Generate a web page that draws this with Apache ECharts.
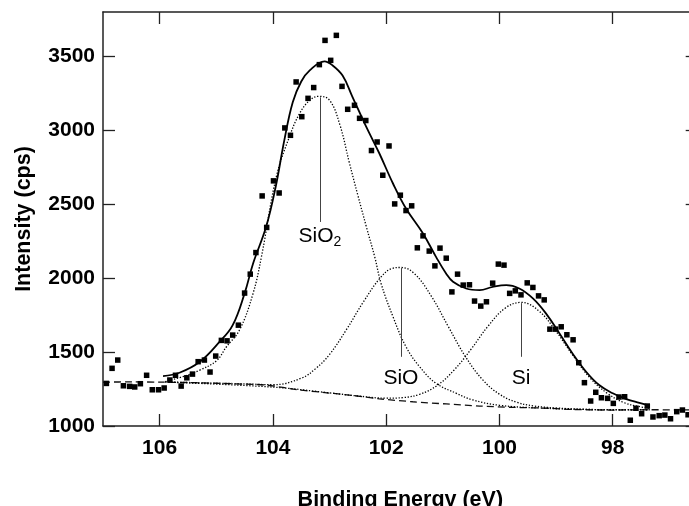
<!DOCTYPE html>
<html><head><meta charset="utf-8">
<script src="https://cdn.jsdelivr.net/npm/echarts@6/dist/echarts.min.js"></script>
<style>html,body{margin:0;padding:0;background:#fff}#c{width:689px;height:506px}</style>
</head><body><div id="c"></div>
<script>
// ---- tick labels ----
const xTicks = [106, 104, 102, 100, 98];
const yTicks = [1000, 1500, 2000, 2500, 3000, 3500];

// ---- measured points (binding energy eV, intensity cps) ----
const measEnergy = [106.94,106.84,106.74,106.64,106.53,106.44,106.34,106.23,106.13,106.02,105.92,105.82,105.72,105.62,105.52,105.42,105.32,105.21,105.11,105.01,104.91,104.81,104.71,104.61,104.50,104.40,104.30,104.19,104.11,103.99,103.89,103.79,103.69,103.59,103.49,103.38,103.28,103.18,103.08,102.98,102.88,102.78,102.68,102.56,102.47,102.36,102.26,102.16,102.06,101.95,101.85,101.75,101.65,101.55,101.45,101.35,101.24,101.14,101.05,100.94,100.84,100.74,100.64,100.53,100.44,100.33,100.23,100.12,100.02,99.92,99.82,99.72,99.62,99.51,99.41,99.31,99.21,99.11,99.01,98.91,98.81,98.70,98.60,98.50,98.39,98.30,98.20,98.09,97.99,97.89,97.79,97.69,97.59,97.49,97.39,97.29,97.18,97.08,96.98,96.87,96.77,96.67];
const measIntensity = [1288,1390,1446,1272,1268,1264,1286,1343,1245,1245,1257,1311,1343,1270,1326,1351,1435,1446,1365,1473,1579,1576,1615,1682,1899,2027,2173,2556,2343,2658,2576,3016,2966,3327,3092,3216,3289,3444,3608,3473,3642,3297,3142,3169,3081,3066,2863,2921,2696,2894,2502,2561,2457,2489,2205,2286,2183,2083,2203,2135,1907,2027,1953,1955,1845,1811,1840,1966,2095,2088,1897,1914,1887,1968,1937,1880,1853,1655,1655,1671,1617,1583,1428,1293,1169,1228,1191,1187,1153,1196,1198,1039,1120,1083,1135,1061,1070,1074,1049,1097,1108,1076];

// ---- fitted envelope ----
const envEnergy = [105.94,105.65,105.29,104.94,104.71,104.50,104.35,104.12,103.95,103.80,103.65,103.50,103.35,103.09,102.95,102.77,102.60,102.36,102.12,101.88,101.65,101.35,101.12,100.94,100.82,100.59,100.35,100.12,99.88,99.65,99.41,99.18,98.94,98.71,98.47,98.24,98.00,97.76,97.53,97.38];
const envIntensity = [1338,1360,1434,1570,1682,1897,2099,2347,2620,2930,3190,3330,3405,3466,3440,3370,3230,3030,2843,2640,2471,2302,2144,2030,1975,1930,1919,1941,1953,1930,1863,1762,1626,1491,1367,1277,1221,1182,1157,1142];

// ---- SiO2 component ----
const sio2Energy = [105.90,105.50,105.29,105.00,104.82,104.59,104.35,104.20,103.94,103.71,103.53,103.35,103.19,103.00,102.82,102.65,102.50,102.35,102.20,102.09,101.88,101.65,101.41,101.12,100.76,100.47,100.00,99.30,98.50,97.35];
const sio2Intensity = [1300,1345,1378,1440,1536,1649,1897,2150,2685,2955,3113,3203,3230,3203,3040,2780,2560,2347,2140,1964,1739,1536,1401,1289,1221,1176,1140,1122,1112,1110];

// ---- SiO component ----
const sioEnergy = [105.90,104.50,104.00,103.50,103.24,103.00,102.70,102.40,102.10,101.90,101.74,101.50,101.20,100.90,100.60,100.30,100.00,99.70,99.40,99.00,98.50,98.00,97.35];
const sioIntensity = [1298,1285,1279,1323,1390,1484,1653,1841,2004,2065,2072,2030,1876,1670,1469,1314,1215,1161,1136,1122,1113,1109,1111];

// ---- Si component ----
const siEnergy = [105.90,104.00,103.00,102.50,102.00,101.70,101.40,101.10,100.80,100.50,100.20,99.90,99.62,99.30,99.00,98.70,98.40,98.10,97.80,97.50,97.35];
const siIntensity = [1297,1263,1224,1203,1188,1192,1216,1274,1379,1520,1676,1797,1836,1777,1640,1475,1325,1222,1158,1129,1121];

// ---- background ----
const bgEnergy = [107.0,106.5,106.0,105.5,105.0,104.5,104.12,103.53,103.24,102.65,102.12,101.53,100.94,100.35,99.77,99.12,98.71,98.00,97.35,96.5];
const bgIntensity = [1297,1298,1297,1294,1289,1283,1277,1243,1232,1209,1184,1164,1149,1135,1126,1120,1112,1108,1110,1108];

// ---- peak annotations ----
const peakNames = ['SiO{sub|2}', 'SiO', 'Si'];
const peakEnergy = [103.17, 101.74, 99.62];
const peakLineTop = [3223, 2068, 1831];
const peakLineBottom = [2380, 1468, 1468];
const peakLabelY = [2287, 1324, 1324];

const zip = (a, b) => a.map((v, i) => [v, b[i]]);
const FONT = 'Liberation Sans, Arial, Helvetica, sans-serif';
const axisLineStyle = { color: '#222', width: 1.5 };
const tickStyle = { color: '#222', width: 1.3 };
const plain = v => String(v);

const chart = echarts.init(document.getElementById('c'), null, { renderer: 'canvas' });
chart.setOption({
  animation: false,
  backgroundColor: '#fff',
  grid: { left: 103, right: -8.7, top: 12, bottom: 80, containLabel: false, outerBoundsMode: 'none' },
  xAxis: [{
    type: 'value', inverse: true, min: 96.5, max: 107, position: 'bottom',
    axisLine: { show: true, onZero: false, lineStyle: axisLineStyle },
    axisTick: { show: true, inside: true, length: 12, customValues: xTicks, lineStyle: tickStyle },
    axisLabel: { show: true, customValues: xTicks, formatter: plain, margin: 12, fontSize: 21, fontWeight: 'bold', color: '#000', fontFamily: FONT },
    splitLine: { show: false },
    name: 'Binding Energy (eV)', nameLocation: 'middle', nameGap: 63,
    nameTextStyle: { fontSize: 21.5, fontWeight: 'bold', color: '#000', fontFamily: FONT }
  }, {
    type: 'value', inverse: true, min: 96.5, max: 107, position: 'top',
    axisLine: { show: true, onZero: false, lineStyle: axisLineStyle },
    axisTick: { show: true, inside: true, length: 12, customValues: xTicks, lineStyle: tickStyle },
    axisLabel: { show: false },
    splitLine: { show: false }
  }],
  yAxis: [{
    type: 'value', min: 1000, max: 3800, position: 'left',
    axisLine: { show: true, onZero: false, lineStyle: axisLineStyle },
    axisTick: { show: true, inside: true, length: 12, customValues: yTicks, lineStyle: tickStyle },
    axisLabel: { show: true, customValues: yTicks, formatter: plain, margin: 8, fontSize: 21, fontWeight: 'bold', color: '#000', fontFamily: FONT },
    splitLine: { show: false },
    name: 'Intensity (cps)', nameLocation: 'middle', nameGap: 68,
    nameTextStyle: { fontSize: 21.5, fontWeight: 'bold', color: '#000', fontFamily: FONT }
  }, {
    type: 'value', min: 1000, max: 3800, position: 'right',
    axisLine: { show: true, onZero: false, lineStyle: axisLineStyle },
    axisTick: { show: true, inside: true, length: 12, customValues: yTicks, lineStyle: tickStyle },
    axisLabel: { show: false },
    splitLine: { show: false }
  }],
  series: [
    { name: 'background', type: 'line', data: zip(bgEnergy, bgIntensity), showSymbol: false, smooth: 0.3,
      lineStyle: { color: '#111', width: 1.3, type: [7, 4] }, z: 2 },
    { name: 'SiO2', type: 'line', data: zip(sio2Energy, sio2Intensity), showSymbol: false, smooth: 0.4,
      lineStyle: { color: '#000', width: 1.3, type: [1.3, 1.7] }, z: 2 },
    { name: 'SiO', type: 'line', data: zip(sioEnergy, sioIntensity), showSymbol: false, smooth: 0.4,
      lineStyle: { color: '#000', width: 1.3, type: [1.3, 1.7] }, z: 2 },
    { name: 'Si', type: 'line', data: zip(siEnergy, siIntensity), showSymbol: false, smooth: 0.4,
      lineStyle: { color: '#000', width: 1.3, type: [1.3, 1.7] }, z: 2 },
    { name: 'fit', type: 'line', data: zip(envEnergy, envIntensity), showSymbol: false, smooth: 0.4,
      lineStyle: { color: '#000', width: 1.8 }, z: 3 },
    { name: 'data', type: 'scatter', data: zip(measEnergy, measIntensity), symbol: 'rect', symbolSize: 5.5,
      itemStyle: { color: '#000', opacity: 1 }, z: 4 },
    { name: 'labels', type: 'scatter', symbolSize: 0, z: 5,
      itemStyle: { opacity: 1 },
      data: peakNames.map((n, i) => ({ value: [peakEnergy[i], peakLabelY[i]], name: n })),
      label: { show: true, position: 'inside', formatter: p => p.name, fontSize: 21, color: '#000', opacity: 1,
        textBorderWidth: 0, textBorderColor: 'transparent', fontFamily: FONT,
        rich: { sub: { fontSize: 14, fontFamily: FONT, color: '#000', textBorderWidth: 0, verticalAlign: 'bottom', padding: [12, 0, 0, 0] } } },
      emphasis: { disabled: true },
      markLine: { symbol: 'none', silent: true, label: { show: false },
        lineStyle: { color: '#444', width: 1, type: 'solid', opacity: 1 },
        data: peakNames.map((n, i) => [{ coord: [peakEnergy[i], peakLineTop[i]] }, { coord: [peakEnergy[i], peakLineBottom[i]] }]) }
    }
  ]
});
</script>
</body></html>
